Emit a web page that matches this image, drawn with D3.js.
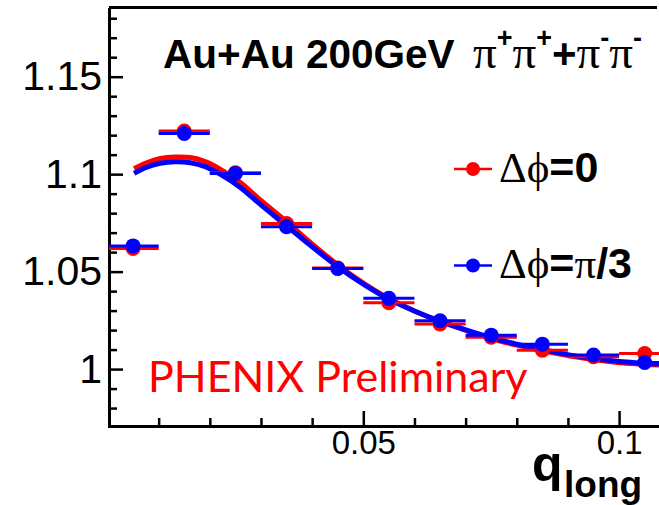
<!DOCTYPE html>
<html>
<head>
<meta charset="utf-8">
<script src="https://cdn.jsdelivr.net/npm/d3@7"></script>
<style>
  html, body { margin: 0; padding: 0; background: #fff; }
  svg { display: block; }
</style>
</head>
<body>
<svg id="chart" width="659" height="505"></svg>
<script>
// q_long bin centres, each bin 0.01 wide
const qBins = [0.005, 0.015, 0.025, 0.035, 0.045, 0.055, 0.065, 0.075, 0.085, 0.095, 0.105];
const binWidth = 0.01;

// correlation function C(q_long) for the two reaction-plane angles
const corrPhi0   = [1.0619, 1.1221, 1.1007, 1.0747, 1.0518, 1.0340, 1.0231, 1.0163, 1.0097, 1.0063, 1.0080];
const corrPhiPi3 = [1.0632, 1.1209, 1.1004, 1.0730, 1.0516, 1.0363, 1.0248, 1.0174, 1.0128, 1.0072, 1.0034];

// fitted curves, sampled along q_long
const fitQ      = [0.0052, 0.0074, 0.0103, 0.0132, 0.0162, 0.0191, 0.0220, 0.0259, 0.0298, 0.0351, 0.0396,
                   0.0451, 0.0503, 0.0550, 0.0601, 0.0650, 0.0708, 0.0767, 0.0826, 0.0884, 0.0949, 0.1001, 0.1078];
const fitPhi0   = [1.1028, 1.1056, 1.1080, 1.1088, 1.1085, 1.1064, 1.1026, 1.0959, 1.0869, 1.0754, 1.0651,
                   1.0533, 1.0436, 1.0362, 1.0297, 1.0244, 1.0192, 1.0144, 1.0108, 1.0077, 1.0049, 1.0033, 1.0021];
const fitPhiPi3 = [1.1004, 1.1033, 1.1056, 1.1064, 1.1059, 1.1039, 1.1000, 1.0933, 1.0846, 1.0733, 1.0636,
                   1.0523, 1.0431, 1.0359, 1.0297, 1.0246, 1.0195, 1.0149, 1.0113, 1.0082, 1.0054, 1.0039, 1.0026];

// axis ticks
const yMajorTicks = [1, 1.05, 1.1, 1.15];
const yTickLabels = ["1", "1.05", "1.1", "1.15"];
const yMinorTicks = [0.98, 0.99, 1.01, 1.02, 1.03, 1.04, 1.06, 1.07, 1.08, 1.09, 1.11, 1.12, 1.13, 1.14, 1.16, 1.17, 1.18];
const xMajorTicks = [0.05, 0.1];
const xTickLabels = ["0.05", "0.1"];
const xMinorTicks = [0.01, 0.02, 0.03, 0.04, 0.06, 0.07, 0.08, 0.09];

const RED = "#ff0000", BLUE = "#0000ff";
const SANS = "'Liberation Sans', Arial, Helvetica, sans-serif";
const SERIF = "'Liberation Serif', 'Times New Roman', serif";

const svg = d3.select("#chart");

const x = d3.scaleLinear().domain([0, 0.1078]).range([107.5, 659]);
const y = d3.scaleLinear().domain([0.9708, 1.1855]).range([426, 7.5]);

// ---- axes ----
const yMinorAxis = d3.axisLeft(y).tickValues(yMinorTicks).tickSizeInner(-8).tickSizeOuter(0).tickFormat("");
const yMajorAxis = d3.axisLeft(y).tickValues(yMajorTicks).tickSizeInner(-14).tickSizeOuter(0)
  .tickPadding(7).tickFormat((d, i) => yTickLabels[i]);
const xMinorAxis = d3.axisBottom(x).tickValues(xMinorTicks).tickSizeInner(-8).tickSizeOuter(0).tickFormat("");
const xMajorAxis = d3.axisBottom(x).tickValues(xMajorTicks).tickSizeInner(-15).tickSizeOuter(0)
  .tickPadding(5).tickFormat((d, i) => xTickLabels[i]);

function styleAxis(g, fontSize) {
  g.select(".domain").attr("stroke", "#000").attr("stroke-width", 3);
  g.selectAll(".tick line").attr("stroke", "#000").attr("stroke-width", 2.5);
  g.selectAll(".tick text").attr("fill", "#000").attr("font-family", SANS).attr("font-size", fontSize);
}

svg.append("g").attr("transform", "translate(109,0)").call(yMinorAxis).call(g => styleAxis(g, 0));
svg.append("g").attr("transform", "translate(109,0)").call(yMajorAxis).call(g => styleAxis(g, 41));
svg.append("g").attr("transform", "translate(0,426)").call(xMinorAxis).call(g => styleAxis(g, 0));
svg.append("g").attr("transform", "translate(0,426)").call(xMajorAxis).call(g => styleAxis(g, 33));

// top frame line
svg.append("line").attr("x1", 109).attr("x2", 657).attr("y1", y.range()[1]).attr("y2", y.range()[1])
  .attr("stroke", "#000").attr("stroke-width", 3);

// ---- fit curves ----
const fitLine = vals => d3.line()
  .x((d, i) => x(fitQ[i]))
  .y((d, i) => y(vals[i]))
  .curve(d3.curveCatmullRom)(vals);

svg.append("path").attr("d", fitLine(fitPhi0)).attr("fill", "none").attr("stroke", RED).attr("stroke-width", 5);
svg.append("path").attr("d", fitLine(fitPhiPi3)).attr("fill", "none").attr("stroke", BLUE).attr("stroke-width", 5);

// ---- data points with bin-width bars ----
function drawSeries(vals, color) {
  const g = svg.append("g");
  g.selectAll("line.bar").data(vals).join("line").attr("class", "bar")
    .attr("x1", (d, i) => Math.max(x(qBins[i] - binWidth / 2), 109))
    .attr("x2", (d, i) => Math.min(x(qBins[i] + binWidth / 2), 659))
    .attr("y1", d => y(d)).attr("y2", d => y(d))
    .attr("stroke", color).attr("stroke-width", 3);
  g.selectAll("circle").data(vals).join("circle")
    .attr("cx", (d, i) => x(qBins[i])).attr("cy", d => y(d)).attr("r", 7.5)
    .attr("fill", color);
}
drawSeries(corrPhi0, RED);
drawSeries(corrPhiPi3, BLUE);

// ---- title ----
const title = svg.append("text").attr("x", 163).attr("y", 68).attr("fill", "#000");
const piSize = 47, supSize = 27, supShift = 21;
title.append("tspan").attr("font-family", SANS).attr("font-weight", "bold").attr("font-size", 40.5).text("Au+Au 200GeV");
title.append("tspan").attr("x", 473).attr("font-family", SERIF).attr("font-size", piSize).text("π");
title.append("tspan").attr("dy", -supShift).attr("font-family", SANS).attr("font-weight", "bold").attr("font-size", supSize).text("+");
title.append("tspan").attr("dy", supShift).attr("font-family", SERIF).attr("font-size", piSize).text("π");
title.append("tspan").attr("dy", -supShift).attr("font-family", SANS).attr("font-weight", "bold").attr("font-size", supSize).text("+");
title.append("tspan").attr("dy", supShift).attr("font-family", SANS).attr("font-weight", "bold").attr("font-size", 42).text("+");
title.append("tspan").attr("font-family", SERIF).attr("font-size", piSize).text("π");
title.append("tspan").attr("dy", -supShift).attr("font-family", SANS).attr("font-weight", "bold").attr("font-size", supSize).text("-");
title.append("tspan").attr("dy", supShift).attr("font-family", SERIF).attr("font-size", piSize).text("π");
title.append("tspan").attr("dy", -supShift).attr("font-family", SANS).attr("font-weight", "bold").attr("font-size", supSize).text("-");

// ---- legend ----
const legend = [
  { color: RED,  cy: 169,   base: 181.5, tail: [["=0", SANS, "bold"]] },
  { color: BLUE, cy: 265.5, base: 278,   tail: [["=", SANS, "bold"], ["π", SERIF, "normal"], ["/3", SANS, "bold"]] }
];
legend.forEach(item => {
  svg.append("line").attr("x1", 454).attr("x2", 492).attr("y1", item.cy).attr("y2", item.cy)
    .attr("stroke", item.color).attr("stroke-width", 2.5);
  svg.append("circle").attr("cx", 473).attr("cy", item.cy).attr("r", 7).attr("fill", item.color);
  const t = svg.append("text").attr("x", 499).attr("y", item.base).attr("fill", "#000").attr("font-size", 43);
  t.append("tspan").attr("font-family", SERIF).text("Δϕ");
  item.tail.forEach(([s, f, w]) => t.append("tspan").attr("font-family", f).attr("font-weight", w).text(s));
});

// ---- preliminary label ----
svg.append("text").attr("x", 148).attr("y", 392).attr("fill", RED)
  .attr("font-family", "Lato, 'Open Sans', sans-serif").attr("font-size", 43)
  .text("PHENIX Preliminary");

// ---- axis title ----
const xt = svg.append("text").attr("x", 532).attr("y", 481).attr("fill", "#000")
  .attr("font-family", SANS).attr("font-weight", "bold");
xt.append("tspan").attr("font-size", 50).text("q");
xt.append("tspan").attr("x", 564).attr("y", 497).attr("font-size", 37).text("long");
</script>
</body>
</html>
